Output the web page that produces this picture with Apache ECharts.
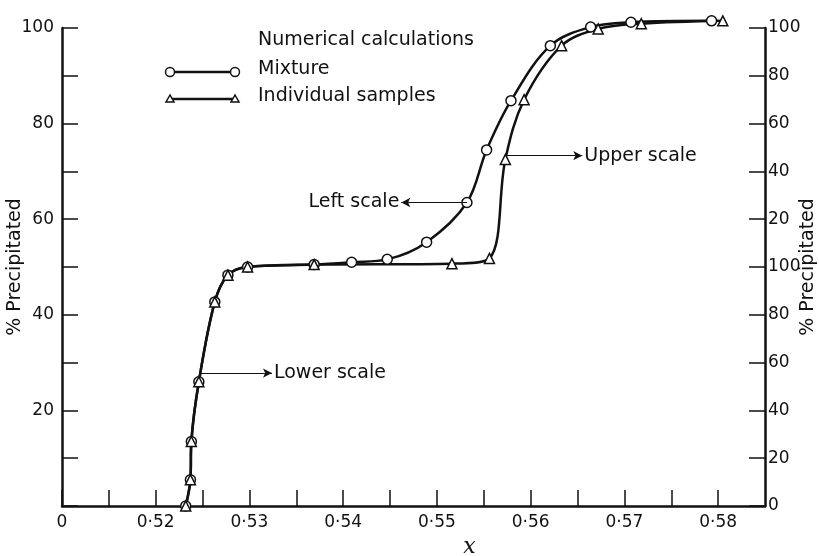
<!DOCTYPE html>
<html>
<head>
<meta charset="utf-8">
<script src="https://cdn.jsdelivr.net/npm/echarts@6/dist/echarts.min.js"></script>
<style>html,body{margin:0;padding:0;background:#fff}#c{width:819px;height:556px}</style>
</head>
<body>
<div id="c"></div>
<script>
// x values (mole fraction) and % precipitated (left scale)
const mixtureX = [0.5232, 0.5237, 0.5238, 0.5246, 0.5263, 0.5277, 0.5298, 0.5369, 0.5409, 0.5447, 0.5489, 0.5532, 0.5553, 0.5579, 0.5621, 0.5664, 0.5707, 0.5793];
const mixtureY = [0, 5.5, 13.5, 26, 42.7, 48.3, 50, 50.5, 51.0, 51.6, 55.2, 63.5, 74.5, 84.8, 96.3, 100.2, 101.2, 101.5];
const individualX = [0.5232, 0.5237, 0.5238, 0.5246, 0.5263, 0.5277, 0.5298, 0.5369, 0.5516, 0.5556, 0.5573, 0.5593, 0.5633, 0.5672, 0.5718, 0.5805];
const individualY = [0, 5.5, 13.5, 26, 42.7, 48.3, 50, 50.5, 50.7, 51.8, 72.5, 85.0, 96.3, 99.8, 100.9, 101.5];
const xTickLabels = {510: '0', 520: '0·52', 530: '0·53', 540: '0·54', 550: '0·55', 560: '0·56', 570: '0·57', 580: '0·58'};
const legendTitle = 'Numerical calculations';
const seriesNames = ['Mixture', 'Individual samples'];
const annotations = [
  {text: 'Left scale', from: [0.5532, 63.5], to: [0.5462, 63.5]},
  {text: 'Upper scale', from: [0.5575, 73.3], to: [0.5655, 73.3]},
  {text: 'Lower scale', from: [0.5248, 27.8], to: [0.5324, 27.8]}
];

const FONT = 'DejaVu Sans';
const chart = echarts.init(document.getElementById('c'));
const zip = (xs, ys) => xs.map((x, i) => [x, ys[i]]);

const arrowLines = annotations.map(a => [
  {coord: a.from, symbol: 'none'},
  {coord: a.to, symbol: 'arrow', symbolSize: [7, 9],
   label: {show: true, position: 'end', formatter: a.text, distance: 2,
     color: '#111', fontFamily: FONT, fontSize: 19}}
]);

const axisLine = {show: true, lineStyle: {color: '#111', width: 2.5}};
chart.setOption({
  animation: false,
  backgroundColor: '#fff',
  grid: {left: 62, right: 54, top: 28, bottom: 50, outerBoundsMode: 'none', containLabel: false},
  xAxis: {
    type: 'value', min: 0.51, max: 0.585, interval: 0.005,
    name: 'x', nameLocation: 'middle', nameGap: 30, nameMoveOverlap: false,
    nameTextStyle: {fontFamily: 'DejaVu Serif', fontStyle: 'italic', fontSize: 22, color: '#111', padding: [0, 0, 0, 112]},
    axisLine: axisLine,
    axisTick: {show: true, inside: true, length: 16, lineStyle: {color: '#111', width: 1.5}},
    axisLabel: {color: '#111', fontFamily: FONT, fontSize: 17, margin: 8, showMaxLabel: false,
      formatter: v => { const k = Math.round(v * 1000); return xTickLabels[k] !== undefined ? xTickLabels[k] : ''; }},
    splitLine: {show: false}
  },
  yAxis: [{
    type: 'value', min: 0, max: 100, interval: 10, position: 'left',
    name: '% Precipitated', nameLocation: 'middle', nameGap: 37, nameMoveOverlap: false,
    nameTextStyle: {fontFamily: FONT, fontSize: 19, color: '#111'},
    axisLine: axisLine,
    axisTick: {show: true, inside: true, length: 16, lineStyle: {color: '#111', width: 1.5}},
    axisLabel: {color: '#111', fontFamily: FONT, fontSize: 17, margin: 8,
      formatter: v => (v > 0 && v % 20 === 0) ? String(v) : ''},
    splitLine: {show: false}
  }, {
    type: 'value', min: 0, max: 200, interval: 20, position: 'right',
    name: '% Precipitated', nameLocation: 'middle', nameGap: 34, nameRotate: 90, nameMoveOverlap: false,
    nameTextStyle: {fontFamily: FONT, fontSize: 19, color: '#111'},
    axisLine: axisLine,
    axisTick: {show: true, inside: true, length: 16, lineStyle: {color: '#111', width: 1.5}},
    axisLabel: {color: '#111', fontFamily: FONT, fontSize: 17, margin: 3,
      formatter: v => String(v > 100 ? v - 100 : v)},
    splitLine: {show: false}
  }],
  series: [{
    name: seriesNames[0], type: 'line', data: zip(mixtureX, mixtureY), smooth: 0.35, clip: false,
    symbol: 'circle', symbolSize: 10, showAllSymbol: true,
    lineStyle: {color: '#111', width: 2.5},
    itemStyle: {color: '#fff', borderColor: '#111', borderWidth: 1.5},
    markLine: {silent: true, symbol: ['none', 'none'], lineStyle: {color: '#111', width: 1, type: 'solid'},
      data: arrowLines}
  }, {
    name: seriesNames[1], type: 'line', data: zip(individualX, individualY), smooth: 0.35, clip: false,
    symbol: 'triangle', symbolSize: 10, showAllSymbol: true,
    lineStyle: {color: '#111', width: 2.5},
    itemStyle: {color: '#fff', borderColor: '#111', borderWidth: 1.5}
  }],
  graphic: [
    {type: 'text', left: 258, top: 31, style: {text: legendTitle, font: '19px "DejaVu Sans"', fill: '#111'}},
    {type: 'line', shape: {x1: 170, y1: 72, x2: 235, y2: 72}, style: {stroke: '#111', lineWidth: 2.5}},
    {type: 'circle', shape: {cx: 170, cy: 72, r: 4.5}, style: {fill: '#fff', stroke: '#111', lineWidth: 1.5}},
    {type: 'circle', shape: {cx: 235, cy: 72, r: 4.5}, style: {fill: '#fff', stroke: '#111', lineWidth: 1.5}},
    {type: 'text', left: 258, top: 60, style: {text: seriesNames[0], font: '19px "DejaVu Sans"', fill: '#111'}},
    {type: 'line', shape: {x1: 170, y1: 99, x2: 235, y2: 99}, style: {stroke: '#111', lineWidth: 2.5}},
    {type: 'polygon', shape: {points: [[170, 95], [166, 102], [174, 102]]}, style: {fill: '#fff', stroke: '#111', lineWidth: 1.5}},
    {type: 'polygon', shape: {points: [[235, 95], [231, 102], [239, 102]]}, style: {fill: '#fff', stroke: '#111', lineWidth: 1.5}},
    {type: 'text', left: 258, top: 87, style: {text: seriesNames[1], font: '19px "DejaVu Sans"', fill: '#111'}}
  ]
});
</script>
</body>
</html>
